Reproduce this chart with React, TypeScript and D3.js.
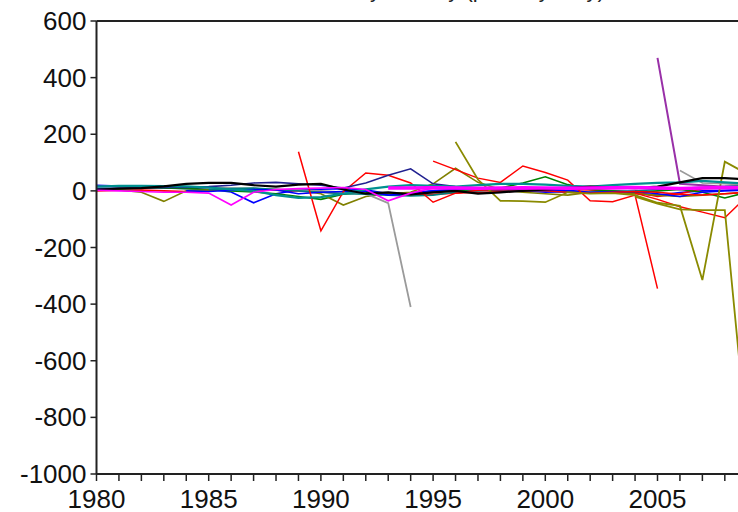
import React from "react";
import * as d3 from "d3";

// Panel residuals, one line per cross-section, 1980-2009
const years = [
  1980, 1981, 1982, 1983, 1984, 1985, 1986, 1987, 1988, 1989,
  1990, 1991, 1992, 1993, 1994, 1995, 1996, 1997, 1998, 1999,
  2000, 2001, 2002, 2003, 2004, 2005, 2006, 2007, 2008, 2009,
];

const N = null;

const blue = [20, 17, 13, 10, 9, 6, -4, -42, -10, 3, 6, 8, 4, -10, -6, 0, 5, 3, 2, 0, -5, -3, -8, -2, -8, -16, -6, 0, 2, 5];
const redA = [0, 2, 3, 0, -2, 2, 5, 4, 2, 0, -5, -8, -5, -10, -15, -12, -8, -5, -3, 0, 2, 5, 3, 0, -5, -20, -10, 8, 10, 12];
const green = [6, 8, 10, 10, 8, 5, 0, -4, -10, -20, -30, -12, -5, -8, -10, -5, 0, 5, 10, 28, 50, 22, 5, 0, -5, 0, 5, -5, -25, -5];
const olive2 = [5, 3, -5, -37, 0, 3, 5, 8, 5, 2, -10, -50, -20, -10, -5, 25, 80, 30, 5, -5, -10, -15, -5, -5, -10, -15, -20, -15, -10, -5];
const gray1 = [15, 17, 17, 16, 15, 12, 10, 8, 5, 3, 0, -5, -10, -43, -410, N, N, N, N, N, N, N, N, N, N, N, N, N, N, N];
const teal2 = [N, N, N, N, N, 5, 8, 10, 5, 0, -5, -10, -12, -15, -18, -15, -5, 0, 5, 2, 0, -3, -5, -2, 0, 5, 10, 12, 15, 20];
const blue2 = [N, N, N, N, 0, -2, 2, 5, 3, -10, -5, -2, 0, -15, -10, 0, 5, 8, 5, 3, 0, 2, -5, -3, -2, -10, -20, -5, 0, 3];
const red1 = [N, N, N, N, N, N, N, N, N, 138, -141, -3, 63, 55, 28, -40, -8, 2, 5, 3, 0, -5, -8, -5, -2, -5, -12, -15, -10, -5];
const red2 = [N, N, N, N, N, N, N, N, N, N, N, N, N, N, N, 105, 75, 45, 30, 88, 65, 38, -35, -38, -15, -345, N, N, N, N];
const red3 = [N, N, N, N, N, N, N, N, N, N, N, N, N, N, N, N, N, N, N, N, N, N, N, N, -8, -30, -56, -75, -95, -18];
const olive1 = [N, N, N, N, N, N, N, N, N, N, N, N, N, N, N, N, 173, 40, -35, -36, -40, -5, -10, -8, -15, -42, -53, -315, 103, 60];
const olive3 = [N, N, N, N, N, N, N, N, N, N, N, N, N, N, N, N, N, N, N, N, N, N, N, N, -20, -45, -65, -68, -68, -890];
const purple = [N, N, N, N, N, N, N, N, N, N, N, N, N, N, N, N, N, N, N, N, N, N, N, N, N, 470, 25, 20, 15, 15];
const gray2 = [N, N, N, N, N, N, N, N, N, N, N, N, N, N, N, N, N, N, N, N, N, N, N, N, N, N, 72, 28, 25, 20];
const navy = [8, 10, 10, 12, 12, 15, 20, 28, 30, 25, 20, 10, 28, 55, 78, 25, 15, 10, 8, 5, 5, 8, 10, 12, 10, 8, 10, 12, 15, 15];
const teal = [15, 18, 18, 17, 16, 12, 5, 0, -15, -25, -22, -10, 5, 15, 20, 18, 15, 20, 25, 25, 22, 18, 15, 20, 25, 28, 30, 35, 30, 25];
const black = [4, 8, 10, 16, 25, 28, 28, 20, 15, 22, 25, 5, -10, -5, -12, -5, 0, -10, -5, 0, 5, 10, 15, 12, 10, 15, 30, 45, 45, 40];
const magenta = [2, 0, -2, -5, -5, -8, -50, -5, 5, 8, 10, 12, 5, -35, -8, 10, 12, 10, 10, 8, 10, 12, 10, 8, 10, 12, 10, 12, 14, 12];
const magenta2 = [N, N, N, N, N, N, N, N, N, N, N, N, N, 10, 10, 11, 10, 9, 10, 11, 10, 9, 10, 11, 12, 10, 8, 10, 12, 10];

const series: { values: (number | null)[]; color: string; width: number }[] = [
  { values: blue, color: "#0000ff", width: 1.6 },
  { values: redA, color: "#ff0000", width: 1.6 },
  { values: green, color: "#008000", width: 1.6 },
  { values: olive2, color: "#808000", width: 1.6 },
  { values: gray1, color: "#9a9a9a", width: 1.8 },
  { values: teal2, color: "#008080", width: 1.6 },
  { values: blue2, color: "#0000ff", width: 1.6 },
  { values: red1, color: "#ff0000", width: 1.5 },
  { values: red2, color: "#ff0000", width: 1.5 },
  { values: red3, color: "#ff0000", width: 1.5 },
  { values: olive1, color: "#8a8a00", width: 1.8 },
  { values: olive3, color: "#8a8a00", width: 1.8 },
  { values: purple, color: "#9930a8", width: 2 },
  { values: gray2, color: "#9a9a9a", width: 1.5 },
  { values: navy, color: "#202090", width: 1.6 },
  { values: teal, color: "#009090", width: 2.2 },
  { values: black, color: "#000000", width: 2.2 },
  { values: magenta, color: "#ff00ff", width: 1.6 },
  { values: magenta2, color: "#ff00ff", width: 3.5 },
];

const yTicks = [-1000, -800, -600, -400, -200, 0, 200, 400, 600];
const xLabels = [1980, 1985, 1990, 1995, 2000, 2005];

const W = 738;
const H = 512;
const left = 96.5;
const top = 21;
const bottom = 474;
const yearStep = 22.44;

export default function App() {
  const x = d3.scaleLinear().domain([1980, 2010]).range([left, left + 30 * yearStep]);
  const y = d3.scaleLinear().domain([-1000, 600]).range([bottom, top]);
  const line = d3
    .line<number | null>()
    .defined((d) => d !== null)
    .x((_, i) => x(years[i]))
    .y((d) => y(d as number));

  const font = "'Liberation Sans', Arial, sans-serif";
  const right = left + 30 * yearStep;

  return (
    <svg
      width={W}
      height={H}
      style={{ position: "absolute", left: 0, top: 0, background: "#fff" }}
      fontFamily={font}
    >
      <rect x={0} y={0} width={W} height={H} fill="#fff" />
      <text x={430} y={-3} fontSize={22} textAnchor="middle" fill="#222">
        Residuals by country (panel, yearly)
      </text>
      <g fill="none" strokeLinejoin="miter">
        {series.map((s, i) => (
          <path key={i} d={line(s.values) || ""} stroke={s.color} strokeWidth={s.width} />
        ))}
      </g>
      <path
        d={`M${left},${top}H${right}M${left},${top}V${bottom}M${left},${bottom}H${right}`}
        stroke="#222"
        strokeWidth={2}
        fill="none"
      />
      {yTicks.map((t) => (
        <g key={t}>
          <line x1={left - 6} x2={left} y1={y(t)} y2={y(t)} stroke="#222" strokeWidth={1.5} />
          <text x={left - 10} y={y(t) + 9} fontSize={26} textAnchor="end" fill="#111">
            {t}
          </text>
        </g>
      ))}
      {years.map((yr) => (
        <line key={yr} x1={x(yr)} x2={x(yr)} y1={bottom} y2={bottom + 7} stroke="#222" strokeWidth={1.5} />
      ))}
      {xLabels.map((yr) => (
        <text key={yr} x={x(yr)} y={508} fontSize={26} textAnchor="middle" fill="#111">
          {yr}
        </text>
      ))}
    </svg>
  );
}
